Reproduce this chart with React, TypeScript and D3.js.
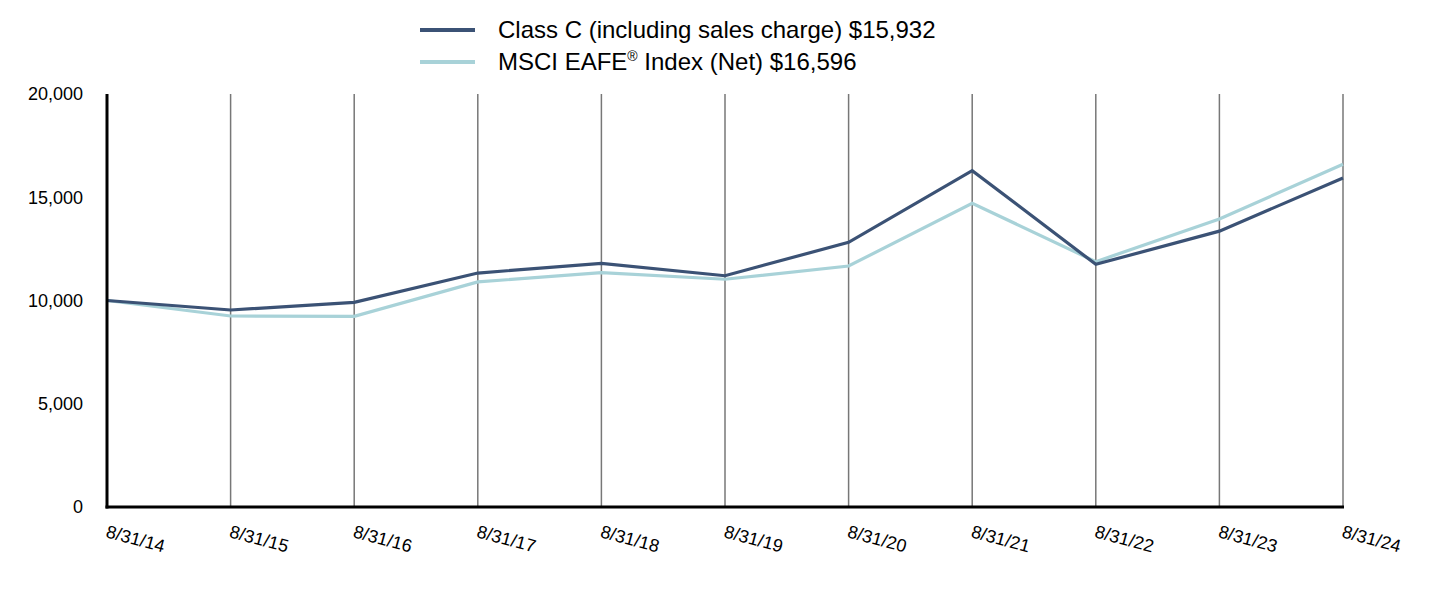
import React from "react";
import * as d3 from "d3";

const dates = ["8/31/14","8/31/15","8/31/16","8/31/17","8/31/18","8/31/19","8/31/20","8/31/21","8/31/22","8/31/23","8/31/24"];
const classC = [10000, 9540, 9910, 11330, 11800, 11200, 12820, 16290, 11750, 13360, 15932];
const msci = [10000, 9250, 9230, 10900, 11350, 11030, 11670, 14710, 11880, 13950, 16596];
const yTicks = [0, 5000, 10000, 15000, 20000];
const seriesNames = ["Class C (including sales charge) $15,932", "MSCI EAFE® Index (Net) $16,596"];
const colors = ["#3b5275", "#a8d2d8"];

export default function App() {
  const W = 1432, H = 596;
  const x = d3.scalePoint<string>().domain(dates).range([107, 1343]);
  const y = d3.scaleLinear().domain([0, 20000]).range([507, 94]);
  const line = d3.line<number>().x((_, i) => x(dates[i])!).y(d => y(d));
  const fmt = d3.format(",");
  const font = "Liberation Sans, Arial, sans-serif";
  return (
    <svg width={W} height={H} style={{ position: "absolute", left: 0, top: 0 }} fontFamily={font}>
      {dates.slice(1).map(d => (
        <line key={d} x1={x(d)} x2={x(d)} y1={94} y2={507} stroke="#777" strokeWidth={1.5} />
      ))}
      {[classC, msci].slice().reverse().map((s, k) => {
        const idx = 1 - k;
        return <path key={idx} d={line(s)!} fill="none" stroke={colors[idx]} strokeWidth={3.2} strokeLinejoin="miter" />;
      })}
      <line x1={107} x2={107} y1={94} y2={508.5} stroke="#000" strokeWidth={3} />
      <line x1={105.5} x2={1344} y1={507} y2={507} stroke="#000" strokeWidth={3} />
      {yTicks.map(t => (
        <text key={t} x={83} y={y(t)} dy="0.35em" textAnchor="end" fontSize={18} fill="#000">{fmt(t)}</text>
      ))}
      {dates.map(d => (
        <text key={d} transform={`translate(${x(d)! - 2},${537}) rotate(15)`} fontSize={18} fill="#000">{d}</text>
      ))}
      {seriesNames.map((n, i) => (
        <g key={n}>
          <line x1={420} x2={475} y1={30 + i * 32} y2={30 + i * 32} stroke={colors[i]} strokeWidth={4} />
          <text x={498} y={30 + i * 32} dy="0.35em" fontSize={24} fill="#000">
            {i === 0 ? n : (<>MSCI EAFE<tspan fontSize={14} dy={-9}>®</tspan><tspan dy={9}> Index (Net) $16,596</tspan></>)}
          </text>
        </g>
      ))}
    </svg>
  );
}
